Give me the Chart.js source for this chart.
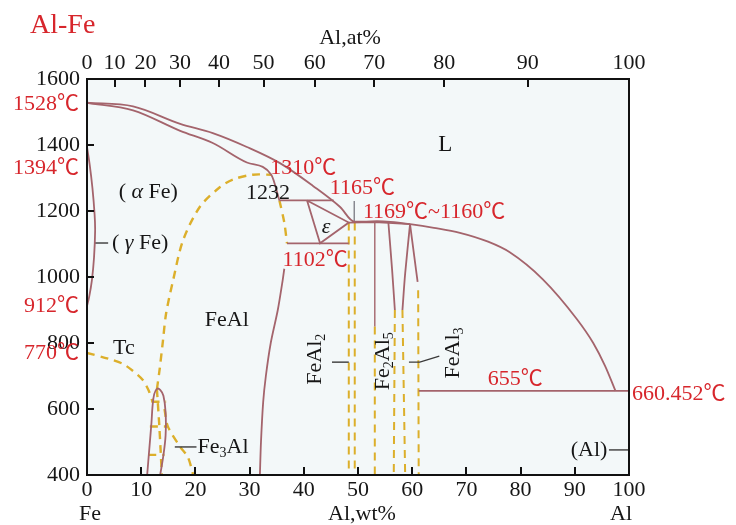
<!DOCTYPE html>
<html>
<head>
<meta charset="utf-8">
<title>Al-Fe</title>
<script src="https://cdn.jsdelivr.net/npm/chart.js@4.4.1/dist/chart.umd.min.js"></script>
<style>
  html, body { margin: 0; padding: 0; background: #ffffff; }
  #box { position: relative; width: 736px; height: 525px; }
</style>
</head>
<body>
<div id="box"><canvas id="phase"></canvas></div>
<script>
// ---------- axis ticks ----------
const wtTicks = [0, 10, 20, 30, 40, 50, 60, 70, 80, 90, 100];   // Al, wt%
const atTicks = [0, 10, 20, 30, 40, 50, 60, 70, 80, 90, 100];   // Al, at%
const tempTicks = [400, 600, 800, 1000, 1200, 1400, 1600];      // °C

// ---------- phase boundaries, points are [Al wt%, °C] ----------
const liquidus = [[0, 1528], [8.5, 1517], [17.2, 1464], [23.2, 1436], [29.5, 1394], [35.6, 1345],
  [41.7, 1276], [46.7, 1212], [49.3, 1168], [51.5, 1168], [53.5, 1169], [56, 1167], [59.6, 1160],
  [64, 1149], [68.8, 1134], [74, 1107], [78, 1075], [84.1, 993], [90.4, 872], [93.4, 800],
  [95.6, 730], [97.5, 655]];
const solidusAlpha = [[0, 1528], [8.5, 1505], [17.2, 1443], [23.2, 1406], [29.5, 1347], [34.0, 1310], [35.5, 1232]];
const gammaLoop = [[0, 1394], [0.5, 1340], [1.0, 1270], [1.4, 1190], [1.5, 1140], [1.3, 1060], [0.9, 990], [0.4, 940], [0, 912]];
const peritectic1232 = [[35.5, 1232], [45.5, 1232]];
const epsilonField = [[40.6, 1232], [43.0, 1102], [48.3, 1165], [40.6, 1232]];
const eutectoid1102 = [[36.9, 1102], [48.3, 1102]];
const eutectic1165 = [[48.3, 1165], [53.1, 1166], [55.6, 1164], [59.6, 1160]];
const marker1165 = [[49.3, 1230], [49.3, 1165]];
const feAlSolvus = [[36.4, 1025], [36.1, 990], [35.2, 900], [33.9, 800], [33.0, 700], [32.5, 620], [32.1, 500], [31.9, 400]];
const fe2al5Left = [[53.1, 1166], [53.1, 850]];
const fe2al5Right = [[55.6, 1166], [56.3, 1020], [56.8, 900]];
const feAl3Left = [[59.6, 1160], [58.7, 1010], [58.2, 900]];
const feAl3Right = [[59.6, 1160], [60.4, 1060], [61.0, 985]];
const eutectic655 = [[61.2, 655], [100, 655]];
const fe3AlLoop = [[11.1, 400], [11.5, 480], [11.9, 560], [12.1, 610], [12.4, 645], [12.9, 661],
  [13.5, 658], [14.1, 640], [14.5, 590], [14.5, 520], [14.1, 460], [13.5, 400]];

// ordering / magnetic transitions (dashed)
const orderDome = [[12.9, 660], [13.4, 720], [14.0, 805], [14.6, 890], [15.9, 991], [17.7, 1110],
  [20.8, 1212], [24.5, 1272], [27.0, 1296], [30.6, 1310], [34.0, 1310]];
const orderInLoop = [[12.9, 660], [13.3, 560], [13.6, 470], [13.8, 400]];
const curieLine = [[0, 770], [4, 752], [6.6, 737], [8.5, 715], [10.3, 688], [11.4, 655], [12.1, 622]];
const fe3AlBoundary = [[14.3, 600], [14.9, 548], [17.2, 485], [18.6, 455], [19.6, 400]];
const loopTie1 = [[11.9, 622], [14.6, 622]];
const loopTie2 = [[11.6, 547], [14.9, 547]];
const loopTie3 = [[11.3, 461], [14.3, 461]];
const feAlEpsBoundary = [[35.5, 1232], [36.4, 1165], [36.9, 1102]];
const feAl2Left = [[48.3, 1165], [48.3, 400]];
const feAl2Right = [[49.4, 1165], [49.4, 400]];
const fe2al5LeftLow = [[53.1, 850], [53.1, 400]];
const fe2al5RightLow = [[56.8, 900], [56.6, 400]];
const feAl3LeftLow = [[58.2, 900], [58.7, 400]];
const feAl3RightLow = [[61.1, 960], [61.2, 400]];

// label leaders
const gammaLeader = [[1.3, 1103], [3.9, 1103]];
const fe3AlLeader = [[16.2, 485], [20.2, 485]];
const feAl2Leader = [[45.2, 742], [48.3, 742]];
const feAl3Leader = [[59.4, 742], [61.4, 742], [65.0, 760]];
const alLeader = [[96.3, 476], [100, 476]];

// ---------- styling ----------
const SERIF = '"Liberation Serif", "Noto Sans CJK SC", serif';
const BROWN = '#a4646c';
const GOLD = '#dcaf2b';
const RED = '#d7262c';
const INK = '#161616';

const atomicMass = { Al: 26.98, Fe: 55.845 };
function atToWt(a) {
  const al = a * atomicMass.Al, fe = (100 - a) * atomicMass.Fe;
  return 100 * al / (al + fe);
}

const pts = arr => arr.map(([x, y]) => ({ x, y }));
function solid(arr, opt = {}) {
  return {
    data: pts(arr), showLine: true, pointRadius: 0, fill: false, order: 0,
    borderColor: opt.color || BROWN, borderWidth: opt.width || 1.8,
    tension: opt.tension || 0,
    cubicInterpolationMode: opt.mono ? 'monotone' : 'default'
  };
}
function dashed(arr, opt = {}) {
  return {
    data: pts(arr), showLine: true, pointRadius: 0, fill: false, order: 1,
    borderColor: GOLD, borderWidth: opt.width || 2.4, borderDash: opt.dash || [8, 6],
    tension: opt.tension || 0,
    cubicInterpolationMode: opt.mono ? 'monotone' : 'default'
  };
}
function leader(arr) {
  return { data: pts(arr), showLine: true, pointRadius: 0, fill: false, order: 0,
    borderColor: '#3a3a3a', borderWidth: 1.4, tension: 0 };
}

const datasets = [
  solid(liquidus, { mono: true }),
  solid(solidusAlpha, { mono: true }),
  solid(gammaLoop, { tension: 0.4 }),
  solid(peritectic1232),
  solid(epsilonField),
  solid(eutectoid1102),
  solid(eutectic1165),
  solid(marker1165, { color: '#6f6f78', width: 1.2 }),
  solid(feAlSolvus, { tension: 0.3 }),
  solid(fe2al5Left, { width: 1.4 }),
  solid(fe2al5Right, { tension: 0.3 }),
  solid(feAl3Left, { tension: 0.3 }),
  solid(feAl3Right, { tension: 0.3 }),
  solid(eutectic655),
  solid(fe3AlLoop, { tension: 0.35 }),
  dashed(orderDome, { tension: 0.3 }),
  dashed(orderInLoop, { tension: 0.2 }),
  dashed(curieLine, { tension: 0.3 }),
  dashed(fe3AlBoundary, { tension: 0.3 }),
  dashed(loopTie1), dashed(loopTie2), dashed(loopTie3),
  dashed(feAlEpsBoundary, { tension: 0.3 }),
  dashed(feAl2Left, { width: 2 }), dashed(feAl2Right, { width: 2 }),
  dashed(fe2al5LeftLow, { width: 2 }), dashed(fe2al5RightLow, { width: 2 }),
  dashed(feAl3LeftLow, { width: 2 }), dashed(feAl3RightLow, { width: 2 }),
  leader(gammaLeader), leader(fe3AlLeader), leader(feAl2Leader), leader(feAl3Leader), leader(alLeader)
];

// ---------- text ----------
const R90 = -Math.PI / 2;
const plotLabels = [
  { parts: ['L'], x: 66.1, y: 1400, align: 'center', size: 23 },
  { parts: ['( ', { t: 'α', it: true }, ' Fe)'], x: 11.3, y: 1258, align: 'center' },
  { parts: ['( ', { t: 'γ', it: true }, ' Fe)'], x: 4.6, y: 1103, align: 'left' },
  { parts: ['FeAl'], x: 25.8, y: 870, align: 'center' },
  { parts: ['Tc'], x: 6.8, y: 785, align: 'center' },
  { parts: ['Fe', { t: '3', sub: true }, 'Al'], x: 20.4, y: 485, align: 'left' },
  { parts: ['1232'], x: 33.4, y: 1255, align: 'center' },
  { parts: [{ t: 'ε', it: true }], x: 44.1, y: 1152, align: 'center' },
  { parts: ['FeAl', { t: '2', sub: true }], x: 42.1, y: 751, align: 'center', rotate: R90 },
  { parts: ['Fe', { t: '2', sub: true }, 'Al', { t: '5', sub: true }], x: 54.6, y: 745, align: 'center', rotate: R90 },
  { parts: ['FeAl', { t: '3', sub: true }], x: 67.5, y: 770, align: 'center', rotate: R90 },
  { parts: ['(Al)'], x: 96.0, y: 476, align: 'right' },
  { parts: ['1310℃'], x: 33.8, y: 1330, align: 'left', color: RED },
  { parts: ['1165℃'], x: 44.8, y: 1270, align: 'left', color: RED },
  { parts: ['1169℃~1160℃'], x: 50.9, y: 1197, align: 'left', color: RED },
  { parts: ['1102℃'], x: 42.1, y: 1052, align: 'center', color: RED },
  { parts: ['655℃'], x: 79, y: 691, align: 'center', color: RED }
];
const feSideTemps = [['1528℃', 1524], ['1394℃', 1330], ['912℃', 912], ['770℃', 768]];

function drawRich(ctx, parts, px, py, o) {
  const size = o.size || 22;
  const segs = parts.map(p => (typeof p === 'string' ? { t: p } : Object.assign({}, p)));
  const fontOf = s => `${s.it ? 'italic ' : ''}${s.sub ? Math.round(size * 0.62) : size}px ${SERIF}`;
  ctx.save();
  let w = 0;
  for (const s of segs) { ctx.font = fontOf(s); s.w = ctx.measureText(s.t).width; w += s.w; }
  ctx.translate(px, py);
  if (o.rotate) ctx.rotate(o.rotate);
  let cx = o.align === 'center' ? -w / 2 : o.align === 'right' ? -w : 0;
  ctx.fillStyle = o.color || INK;
  ctx.textBaseline = 'middle';
  ctx.textAlign = 'left';
  for (const s of segs) {
    ctx.font = fontOf(s);
    ctx.fillText(s.t, cx, s.sub ? size * 0.3 : 0);
    cx += s.w;
  }
  ctx.restore();
}

// ---------- plugins ----------
const backdrop = {
  id: 'backdrop',
  beforeDraw(chart) {
    const { ctx, chartArea: a } = chart;
    ctx.save();
    ctx.fillStyle = '#ffffff';
    ctx.fillRect(0, 0, chart.width, chart.height);
    ctx.fillStyle = '#f3f8f9';
    ctx.fillRect(a.left, a.top, a.right - a.left, a.bottom - a.top);
    ctx.restore();
  }
};

const frame = {
  id: 'frame',
  afterDatasetsDraw(chart) {
    const { ctx, chartArea: a, scales } = chart;
    ctx.save();
    ctx.strokeStyle = '#111';
    ctx.lineWidth = 2;
    ctx.strokeRect(a.left, a.top, a.right - a.left, a.bottom - a.top);
    ctx.beginPath();
    wtTicks.slice(1, -1).forEach(v => {
      const px = Math.round(scales.x.getPixelForValue(v));
      ctx.moveTo(px, a.bottom); ctx.lineTo(px, a.bottom - 8);
    });
    scales.xTop.ticks.slice(1, -1).forEach(t => {
      const px = Math.round(scales.xTop.getPixelForValue(t.value));
      ctx.moveTo(px, a.top); ctx.lineTo(px, a.top + 8);
    });
    tempTicks.slice(1, -1).forEach(v => {
      const py = Math.round(scales.y.getPixelForValue(v));
      ctx.moveTo(a.left, py); ctx.lineTo(a.left + 7, py);
    });
    ctx.stroke();
    ctx.restore();
  }
};

const labels = {
  id: 'labels',
  afterDraw(chart) {
    const { ctx, chartArea: a, scales: { x, y } } = chart;
    const X = v => x.getPixelForValue(v), Y = v => y.getPixelForValue(v);
    plotLabels.forEach(L => drawRich(ctx, L.parts, X(L.x), Y(L.y), L));
    feSideTemps.forEach(([t, v]) => drawRich(ctx, [t], a.left - 8, Y(v), { align: 'right', color: RED }));
    drawRich(ctx, ['660.452℃'], a.right + 3, Y(645), { align: 'left', color: RED });
    drawRich(ctx, ['Al-Fe'], 30, 26, { align: 'left', color: RED, size: 28 });
    drawRich(ctx, ['Al,at%'], 350, 38, { align: 'center' });
    drawRich(ctx, ['Fe'], X(0) + 3, 514, { align: 'center' });
    drawRich(ctx, ['Al,wt%'], X(50) + 4, 514, { align: 'center' });
    drawRich(ctx, ['Al'], X(100) - 8, 514, { align: 'center' });
  }
};

const tickFont = { family: SERIF, size: 22 };

new Chart(document.getElementById('phase'), {
  type: 'scatter',
  data: { datasets },
  options: {
    responsive: true,
    maintainAspectRatio: false,
    animation: false,
    devicePixelRatio: 1,
    events: [],
    layout: { padding: { left: 0, right: 107, top: 0, bottom: 0 } },
    plugins: { legend: { display: false }, tooltip: { enabled: false } },
    scales: {
      x: {
        type: 'linear', position: 'bottom', min: 0, max: 100,
        afterBuildTicks: s => { s.ticks = wtTicks.map(v => ({ value: v })); },
        afterFit: s => { s.height = 50; },
        grid: { display: false, drawTicks: false },
        border: { display: false },
        ticks: { font: tickFont, color: INK, padding: 2, autoSkip: false, maxRotation: 0,
          callback: v => String(v) }
      },
      xTop: {
        type: 'linear', axis: 'x', position: 'top', min: 0, max: 100,
        afterBuildTicks: s => { s.ticks = atTicks.map(a => ({ value: atToWt(a) })); },
        afterFit: s => { s.height = 79; },
        grid: { display: false, drawTicks: false },
        border: { display: false },
        ticks: { font: tickFont, color: INK, padding: 3, autoSkip: false, maxRotation: 0,
          callback: (v, i) => String(atTicks[i]) }
      },
      y: {
        type: 'linear', position: 'left', min: 400, max: 1600,
        afterBuildTicks: s => { s.ticks = tempTicks.map(v => ({ value: v })); },
        afterFit: s => { s.width = 87; },
        grid: { display: false, drawTicks: false },
        border: { display: false },
        ticks: { font: tickFont, color: INK, padding: 7, autoSkip: false,
          callback: v => String(v) }
      }
    }
  },
  plugins: [backdrop, frame, labels]
});
</script>
</body>
</html>
